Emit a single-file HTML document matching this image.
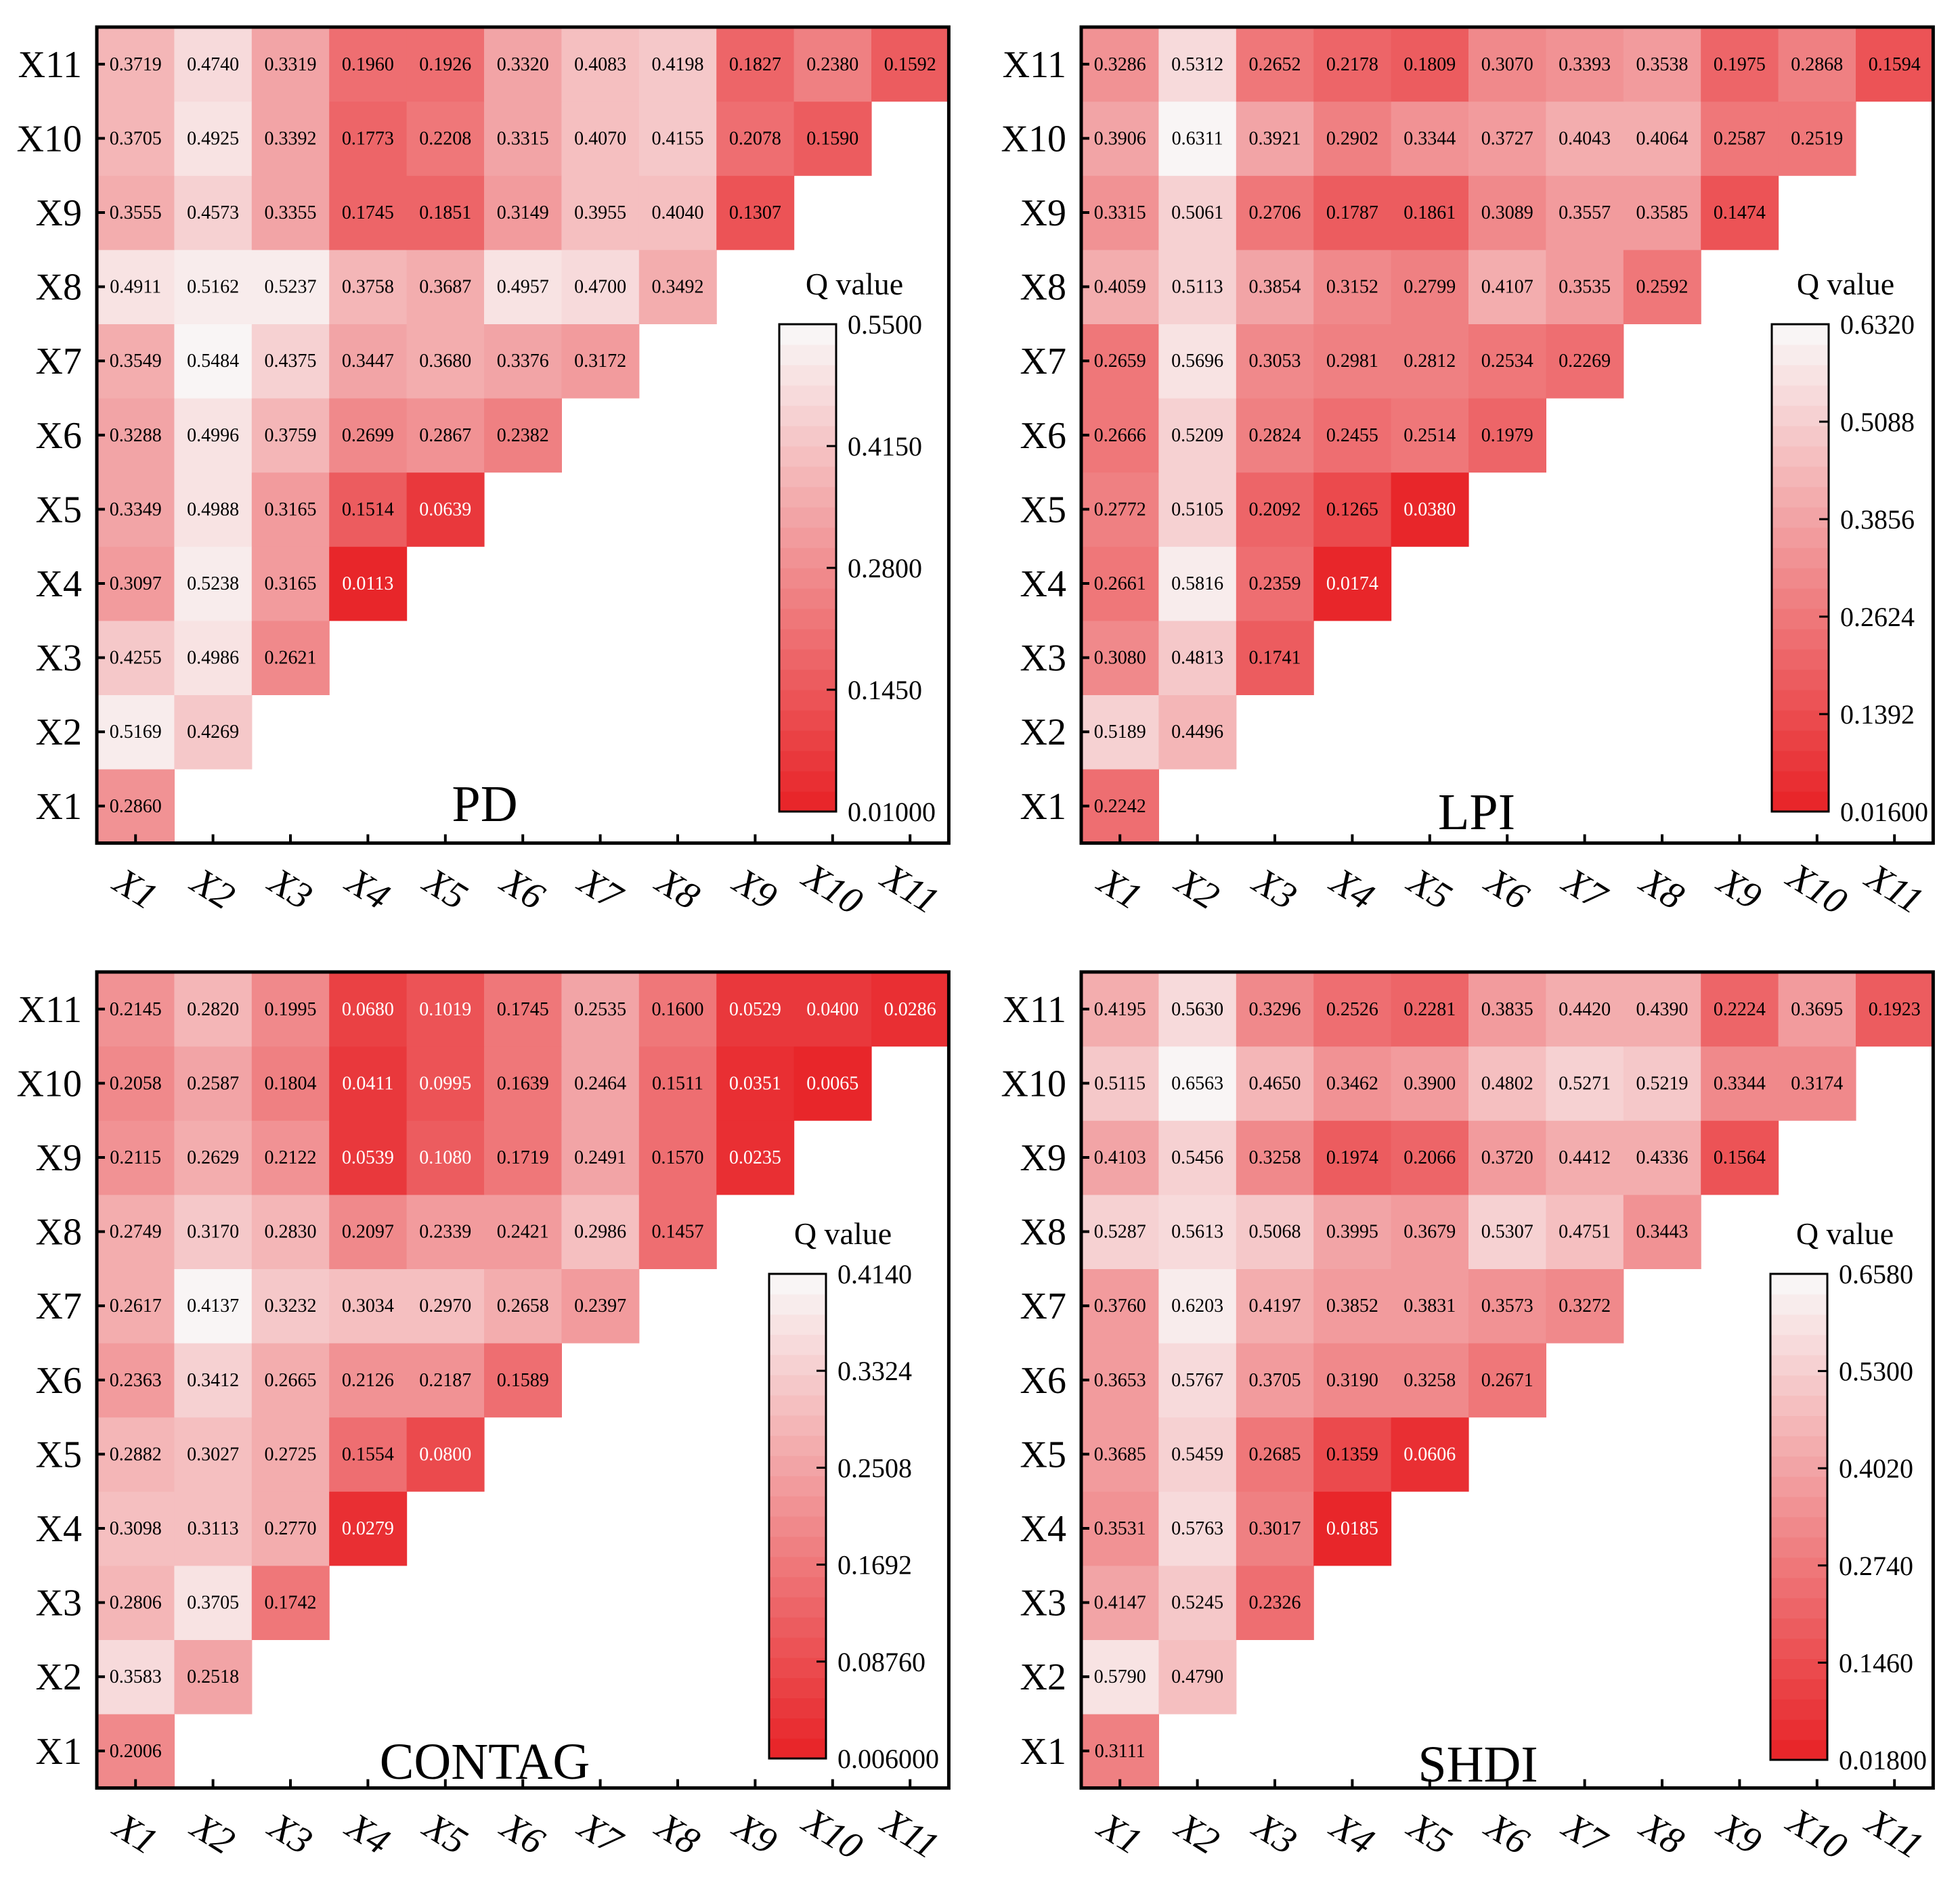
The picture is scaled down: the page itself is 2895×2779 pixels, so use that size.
<!DOCTYPE html>
<html><head><meta charset="utf-8">
<style>
html,body{margin:0;padding:0;background:#fff;}
svg{display:block;font-family:"Liberation Serif",serif;}
</style></head>
<body>
<svg id="fig" width="2895" height="2779" viewBox="0 0 2895 2779" xmlns="http://www.w3.org/2000/svg"></svg>
<script>
// Row labels X1..X11; each row i holds columns X1..Xi
const labels = ["X1","X2","X3","X4","X5","X6","X7","X8","X9","X10","X11"];
const pdValues = [
 [.2860],
 [.5169,.4269],
 [.4255,.4986,.2621],
 [.3097,.5238,.3165,.0113],
 [.3349,.4988,.3165,.1514,.0639],
 [.3288,.4996,.3759,.2699,.2867,.2382],
 [.3549,.5484,.4375,.3447,.3680,.3376,.3172],
 [.4911,.5162,.5237,.3758,.3687,.4957,.4700,.3492],
 [.3555,.4573,.3355,.1745,.1851,.3149,.3955,.4040,.1307],
 [.3705,.4925,.3392,.1773,.2208,.3315,.4070,.4155,.2078,.1590],
 [.3719,.4740,.3319,.1960,.1926,.3320,.4083,.4198,.1827,.2380,.1592]
];
const lpiValues = [
 [.2242],
 [.5189,.4496],
 [.3080,.4813,.1741],
 [.2661,.5816,.2359,.0174],
 [.2772,.5105,.2092,.1265,.0380],
 [.2666,.5209,.2824,.2455,.2514,.1979],
 [.2659,.5696,.3053,.2981,.2812,.2534,.2269],
 [.4059,.5113,.3854,.3152,.2799,.4107,.3535,.2592],
 [.3315,.5061,.2706,.1787,.1861,.3089,.3557,.3585,.1474],
 [.3906,.6311,.3921,.2902,.3344,.3727,.4043,.4064,.2587,.2519],
 [.3286,.5312,.2652,.2178,.1809,.3070,.3393,.3538,.1975,.2868,.1594]
];
const contagValues = [
 [.2006],
 [.3583,.2518],
 [.2806,.3705,.1742],
 [.3098,.3113,.2770,.0279],
 [.2882,.3027,.2725,.1554,.0800],
 [.2363,.3412,.2665,.2126,.2187,.1589],
 [.2617,.4137,.3232,.3034,.2970,.2658,.2397],
 [.2749,.3170,.2830,.2097,.2339,.2421,.2986,.1457],
 [.2115,.2629,.2122,.0539,.1080,.1719,.2491,.1570,.0235],
 [.2058,.2587,.1804,.0411,.0995,.1639,.2464,.1511,.0351,.0065],
 [.2145,.2820,.1995,.0680,.1019,.1745,.2535,.1600,.0529,.0400,.0286]
];
const shdiValues = [
 [.3111],
 [.5790,.4790],
 [.4147,.5245,.2326],
 [.3531,.5763,.3017,.0185],
 [.3685,.5459,.2685,.1359,.0606],
 [.3653,.5767,.3705,.3190,.3258,.2671],
 [.3760,.6203,.4197,.3852,.3831,.3573,.3272],
 [.5287,.5613,.5068,.3995,.3679,.5307,.4751,.3443],
 [.4103,.5456,.3258,.1974,.2066,.3720,.4412,.4336,.1564],
 [.5115,.6563,.4650,.3462,.3900,.4802,.5271,.5219,.3344,.3174],
 [.4195,.5630,.3296,.2526,.2281,.3835,.4420,.4390,.2224,.3695,.1923]
];
const pdTicks = ["0.01000","0.1450","0.2800","0.4150","0.5500"];
const lpiTicks = ["0.01600","0.1392","0.2624","0.3856","0.5088","0.6320"];
const contagTicks = ["0.006000","0.08760","0.1692","0.2508","0.3324","0.4140"];
const shdiTicks = ["0.01800","0.1460","0.2740","0.4020","0.5300","0.6580"];
const titles = ["PD","LPI","CONTAG","SHDI"];

const NS="http://www.w3.org/2000/svg";
const svg=document.getElementById('fig');
function mk(tag,attrs,parent){const e=document.createElementNS(NS,tag);for(const k in attrs)e.setAttribute(k,attrs[k]);(parent||svg).appendChild(e);return e;}
const LO=[232,38,42], HI=[249,245,245];
function colorFor(v,min,max){
  let t=(v-min)/(max-min);t=Math.max(0,Math.min(1,t));
  t=Math.min(23,Math.floor(t*24))/23;
  const c=LO.map((l,i)=>Math.round(l+(HI[i]-l)*t));
  return `rgb(${c[0]},${c[1]},${c[2]})`;
}
const CW=114.4, CH=109.6;
const panels=[
 {data:pdValues,ticks:pdTicks,title:"PD",x0:143,y0:40,cb:[1151,479,1235,1199],q:1262,tx:716,ty:1213},
 {data:lpiValues,ticks:lpiTicks,title:"LPI",x0:1597,y0:40,cb:[2617,479,2701,1199],q:2726,tx:2181,ty:1225},
 {data:contagValues,ticks:contagTicks,title:"CONTAG",x0:143,y0:1436,cb:[1136,1882,1220,2598],q:1245,tx:716,ty:2628},
 {data:shdiValues,ticks:shdiTicks,title:"SHDI",x0:1597,y0:1436,cb:[2615,1882,2699,2600],q:2725,tx:2183,ty:2632}
];
panels.forEach((p,pi)=>{
  const g=mk('g',{});
  
  
  const min=parseFloat(p.ticks[0]), max=parseFloat(p.ticks[p.ticks.length-1]);
  const xs=i=>p.x0+i*CW;
  const ys=r=>p.y0+(10-r)*CH;
  p.data.forEach((row,r)=>{
    row.forEach((v,c)=>{
      const rect=mk('rect',{x:xs(c),y:ys(r),width:CW+0.6,height:CH+0.6,fill:colorFor(v,min,max)},g);
      
      
      const t=mk('text',{x:xs(c)+CW/2,y:ys(r)+CH/2+9,'text-anchor':'middle','font-size':28,fill:v<0.115?'#fff':'#000'},g);
      t.textContent=v.toFixed(4);
      
      
    });
  });
  const W=11*CW,H=11*CH;
  for(let i=0;i<11;i++){
    mk('line',{x1:p.x0,x2:p.x0+12,y1:ys(i)+CH/2,y2:ys(i)+CH/2,stroke:'#000','stroke-width':4},g);
    mk('line',{x1:xs(i)+CW/2,x2:xs(i)+CW/2,y1:p.y0+H,y2:p.y0+H-13,stroke:'#000','stroke-width':4},g);
    const yl=mk('text',{x:p.x0-22,y:ys(i)+CH/2+19,'text-anchor':'end','font-size':56},g);
    yl.textContent=labels[i];
    
    
    const cx=xs(i)+CW/2, cy=p.y0+H+68;
    const xl=mk('text',{x:cx,y:cy+18,'text-anchor':'middle','font-size':56,'font-style':'italic',transform:`rotate(32 ${cx} ${cy})`},g);
    xl.textContent=labels[i];
    
    
  }
  const frame=mk('rect',{x:p.x0,y:p.y0,width:W,height:H,fill:'none',stroke:'#000','stroke-width':5},g);
  
  
  const tt=mk('text',{x:p.tx,y:p.ty,'text-anchor':'middle','font-size':76},g);
  tt.textContent=p.title;
  
  
  const [cx0,cy0,cx1,cy1]=p.cb;
  const N=24, bh=(cy1-cy0)/N;
  for(let k=0;k<N;k++){
    const t=(k+0.5)/N; const v=min+(max-min)*t;
    const b=mk('rect',{x:cx0,y:cy1-(k+1)*bh,width:cx1-cx0,height:bh+0.6,fill:colorFor(v,min,max)},g);
    
    
  }
  const cbf=mk('rect',{x:cx0,y:cy0,width:cx1-cx0,height:cy1-cy0,fill:'none',stroke:'#000','stroke-width':3},g);
  
  
  const n=p.ticks.length-1;
  p.ticks.forEach((lab,k)=>{
    const y=cy1-(cy1-cy0)*k/n;
    if(k>0&&k<n) mk('line',{x1:cx1-14,x2:cx1,y1:y,y2:y,stroke:'#000','stroke-width':3},g);
    const tl=mk('text',{x:cx1+17,y:y+14,'font-size':40},g);
    tl.textContent=lab;
    
    
  });
  const q=mk('text',{x:p.q,y:cy0-44,'text-anchor':'middle','font-size':46},g);
  q.textContent="Q value";
  
  
});
</script>
</body></html>
